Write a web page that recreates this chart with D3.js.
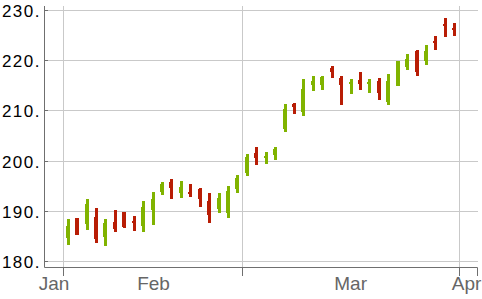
<!DOCTYPE html>
<html>
<head>
<meta charset="utf-8">
<script src="https://cdn.jsdelivr.net/npm/d3@7"></script>
<style>
  html, body { margin: 0; padding: 0; background: #fff; }
  svg { display: block; }
</style>
</head>
<body>
<svg id="chart" width="482" height="299"></svg>
<script>
// Daily price bars, one per session
const openV  = [184.7, 188.6, 187.5, 188.9, 184.9, 187.9, 189.8, 188.1, 187.1, 190.3,
                193.8, 195.8, 193.6, 193.8, 194.4, 192.0, 190.4, 189.7, 194.4, 197.7,
                201.6, 200.7, 201.2, 206.4, 211.4, 209.8, 215.2, 215.2, 218.5, 216.5,
                215.4, 216.1, 215.4, 215.9, 211.8, 215.0, 218.8, 221.9, 219.9, 223.9,
                227.3, 226.5];
const highV  = [188.5, 188.7, 192.5, 190.7, 188.5, 190.3, 189.9, 189.1, 192.1, 193.8,
                195.8, 196.4, 196.0, 195.4, 194.6, 193.7, 193.7, 195.0, 197.2, 201.4,
                202.8, 201.8, 202.8, 211.4, 211.6, 216.4, 217.0, 217.0, 218.9, 217.0,
                216.4, 217.8, 216.4, 216.6, 217.4, 219.9, 221.3, 222.1, 223.1, 224.9,
                228.5, 227.5];
const lowV   = [183.3, 185.3, 186.3, 183.6, 183.0, 185.9, 186.7, 186.1, 185.9, 187.3,
                193.3, 192.5, 192.7, 192.9, 190.9, 187.7, 189.7, 188.7, 193.7, 197.0,
                199.2, 199.4, 200.2, 205.8, 209.4, 209.0, 214.0, 214.2, 216.6, 211.2,
                213.4, 214.2, 213.6, 212.2, 211.2, 215.0, 218.2, 217.0, 219.1, 222.1,
                224.7, 224.9];
const closeV = [187.1, 185.3, 191.5, 184.5, 187.7, 186.5, 186.8, 187.7, 190.9, 192.5,
                195.4, 194.7, 194.9, 193.5, 192.5, 189.3, 192.6, 194.1, 196.6, 200.8,
                200.6, 201.1, 202.4, 210.4, 210.7, 214.4, 216.0, 216.7, 217.7, 215.2,
                215.7, 215.4, 215.7, 213.6, 215.9, 219.9, 220.3, 217.7, 221.9, 223.5,
                226.9, 226.1];

// Axis ticks
const yTicks = [180, 190, 200, 210, 220, 230];
const xGridAt = [-0.5, 18.5, 41.5];          // bar-index positions of the date grid
const monthLabels = ["Jan", "Feb", "Mar", "Apr"];
const monthLabelAt = [-1.55, 9.0, 29.9, 42.2];

const bars = openV.map((o, i) => ({ i, o, h: highV[i], l: lowV[i], c: closeV[i] }));

const svg = d3.select("#chart");
const plotLeft = 44, plotRight = 478, plotTop = 6, plotBottom = 267;

const x = d3.scaleLinear().domain([-0.5, 41.5]).range([63.5, 459.5]);
const y = d3.scaleLinear().domain([180, 230]).range([261.5, 10.5]);

const axisColor = "#6f6f6f";
const gridColor = "#c9c9c9";
const upColor = "#80b300";
const downColor = "#b81d05";
const snap = v => Math.round(v - 0.5) + 0.5;

// grid
const grid = svg.append("g");
grid.selectAll("line.h").data(yTicks).join("line")
  .attr("x1", plotLeft).attr("x2", plotRight)
  .attr("y1", d => snap(y(d))).attr("y2", d => snap(y(d)))
  .attr("stroke", gridColor).attr("stroke-width", 1);
grid.selectAll("line.v").data(xGridAt).join("line")
  .attr("x1", d => snap(x(d))).attr("x2", d => snap(x(d)))
  .attr("y1", plotTop).attr("y2", plotBottom)
  .attr("stroke", gridColor).attr("stroke-width", 1);

// bars: high-low stem with a slightly wider open-close body
const g = svg.append("g");
const col = d => d.c >= d.o ? upColor : downColor;
g.selectAll("rect.stem").data(bars).join("rect")
  .attr("x", d => Math.round(x(d.i) - 1.5))
  .attr("width", 3)
  .attr("y", d => Math.round(y(d.h)))
  .attr("height", d => Math.max(1, Math.round(y(d.l)) - Math.round(y(d.h))))
  .attr("fill", col);
g.selectAll("rect.body").data(bars).join("rect")
  .attr("x", d => Math.round(x(d.i) - 2.5))
  .attr("width", 4)
  .attr("y", d => Math.round(y(Math.max(d.o, d.c))))
  .attr("height", d => Math.max(2, Math.round(y(Math.min(d.o, d.c))) - Math.round(y(Math.max(d.o, d.c)))))
  .attr("fill", col);

// y axis
const yAxis = svg.append("g").attr("transform", `translate(${plotLeft},0)`)
  .call(d3.axisLeft(y).tickValues(yTicks).tickSize(-4).tickPadding(3).tickFormat(d => d + "."));
yAxis.select(".domain").remove();
yAxis.selectAll(".tick line").attr("stroke", axisColor);
yAxis.selectAll(".tick").attr("transform", d => `translate(0,${snap(y(d))})`);
yAxis.selectAll("text")
  .attr("fill", "#000")
  .attr("dy", "0.37em")
  .style("font-family", "'Liberation Sans', Arial, Helvetica, sans-serif")
  .style("font-size", "17px")
  .style("letter-spacing", "1.5px");

// x axis ticks
const xAxis = svg.append("g").attr("transform", `translate(0,${plotBottom})`)
  .call(d3.axisBottom(x).tickValues(xGridAt).tickSize(9).tickFormat(""));
xAxis.select(".domain").remove();
xAxis.selectAll(".tick").attr("transform", d => `translate(${snap(x(d))},0)`);
xAxis.selectAll(".tick line").attr("stroke", axisColor);

// month labels
const xLab = svg.append("g").attr("transform", `translate(0,${plotBottom})`)
  .call(d3.axisBottom(x).tickValues(monthLabelAt).tickSize(0).tickPadding(0)
    .tickFormat((d, i) => monthLabels[i]));
xLab.select(".domain").remove();
xLab.selectAll("text")
  .attr("y", 23).attr("dy", 0)
  .attr("fill", "#666")
  .style("font-family", "'Liberation Sans', Arial, Helvetica, sans-serif")
  .style("font-size", "19px");

// axis lines
svg.append("path")
  .attr("d", `M${plotLeft + 0.5},${plotTop}V${plotBottom + 0.5}H${plotRight - 0.5}V${plotBottom + 9}`)
  .attr("fill", "none").attr("stroke", axisColor).attr("stroke-width", 1);
</script>
</body>
</html>
